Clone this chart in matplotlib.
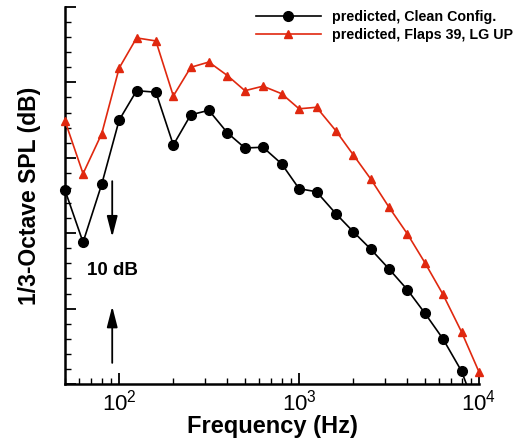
import numpy as np
import matplotlib
matplotlib.use("Agg")
import matplotlib.pyplot as plt
from matplotlib.ticker import LogLocator, MultipleLocator, NullFormatter
from matplotlib.lines import Line2D

plt.rcParams['font.family'] = ['Liberation Sans', 'DejaVu Sans']
plt.rcParams['mathtext.fontset'] = 'custom'
plt.rcParams['mathtext.rm'] = 'Liberation Sans'
plt.rcParams['mathtext.it'] = 'Liberation Sans:italic'
plt.rcParams['mathtext.bf'] = 'Liberation Sans:bold'
plt.rcParams['mathtext.default'] = 'regular'

# 1/3-octave band centre frequencies (Hz)
freq = np.array([50, 63, 80, 100, 125, 160, 200, 250, 315, 400, 500, 630, 800,
                 1000, 1250, 1600, 2000, 2500, 3150, 4000, 5000, 6300, 8000, 10000])

# predicted, Clean Config. (dB, relative scale)
spl_clean = np.array([65.7, 58.8, 66.5, 75.0, 78.9, 78.7, 71.7, 75.7, 76.3, 73.3, 71.3, 71.4, 69.2,
                      65.9, 65.5, 62.6, 60.2, 57.9, 55.3, 52.5, 49.4, 46.0, 41.7, 35.5])

# predicted, Flaps 39, LG UP (dB, relative scale)
spl_flaps = np.array([74.9, 67.9, 73.2, 81.9, 85.9, 85.5, 78.2, 82.0, 82.7, 80.9, 78.9, 79.5, 78.5,
                      76.5, 76.7, 73.6, 70.4, 67.2, 63.5, 59.9, 56.1, 51.9, 46.9, 41.6])

labels = ["predicted, Clean Config.", "predicted, Flaps 39, LG UP"]
xlabel = "Frequency (Hz)"
ylabel = "1/3-Octave SPL (dB)"
ylim = (40, 90)
xlim = (50, 10000)

red = '#e0280f'

fig = plt.figure(figsize=(5.21, 4.38), dpi=100)
ax = fig.add_axes([65/521, 1-384/438, (479-65)/521, (384-7)/438])

# lines (clipped) and markers (unclipped for in-range points)
ax.plot(freq, spl_clean, color='black', lw=1.2, zorder=3)
ax.plot(freq, spl_flaps, color=red, lw=1.2, zorder=3)
mc = (spl_clean >= ylim[0]) & (spl_clean <= ylim[1])
mf = (spl_flaps >= ylim[0]) & (spl_flaps <= ylim[1])
ax.plot(freq[mc], spl_clean[mc], 'o', color='black', ms=7, clip_on=False, zorder=4)
ax.plot(freq[mf], spl_flaps[mf], '^', color=red, ms=6, clip_on=False, zorder=4)

ax.set_xscale('log')
ax.set_xlim(*xlim)
ax.set_ylim(*ylim)

ax.xaxis.set_major_locator(LogLocator(base=10, numticks=10))
ax.xaxis.set_minor_locator(LogLocator(base=10, subs=np.arange(2, 10), numticks=20))
ax.xaxis.set_minor_formatter(NullFormatter())
ax.yaxis.set_major_locator(MultipleLocator(10))
ax.yaxis.set_minor_locator(MultipleLocator(2))
ax.set_yticklabels([])

ax.tick_params(axis='both', which='major', direction='in', length=8, width=1.3,
               labelsize=16, pad=4)
ax.tick_params(axis='both', which='minor', direction='in', length=4, width=1.0)
ax.tick_params(axis='y', which='both', left=True, right=False)
ax.tick_params(axis='x', which='both', bottom=True, top=False)

for s in ['top', 'right']:
    ax.spines[s].set_visible(False)
for s in ['left', 'bottom']:
    ax.spines[s].set_linewidth(1.8)

ax.set_xlabel(xlabel, fontsize=17, fontweight='bold')
ax.xaxis.set_label_coords(0.5, -(433 - 384) / 377)
ax.xaxis.label.set_va('baseline')
ax.set_ylabel(ylabel, fontsize=16.5, fontweight='bold')
ax.yaxis.set_label_coords(-(65 - 30) / 414, 0.5)
ax.yaxis.label.set_va('center')

# 10 dB scale arrows
xa = 91.5
ap = dict(arrowstyle='-|>,head_length=0.7,head_width=0.18', color='black', lw=1.3,
          shrinkA=0, shrinkB=0, mutation_scale=18)
ax.annotate('', xy=(xa, 59.5), xytext=(xa, 66.9), arrowprops=ap)
ax.annotate('', xy=(xa, 50.3), xytext=(xa, 42.8), arrowprops=ap)
ax.text(xa, 55.0, '10 dB', fontsize=13.5, fontweight='bold', ha='center', va='center')

handles = [Line2D([], [], color='black', lw=1.2, marker='o', ms=7),
           Line2D([], [], color=red, lw=1.2, marker='^', ms=6)]
leg = ax.legend(handles, labels, loc='upper right', bbox_to_anchor=(1.0 + 44/414, 1.0 + 7/377),
                frameon=False, prop={'weight': 'bold', 'size': 10.3},
                handlelength=4.5, handletextpad=0.8, labelspacing=0.3, borderaxespad=0.3)

fig.savefig('out.png', dpi=100)
